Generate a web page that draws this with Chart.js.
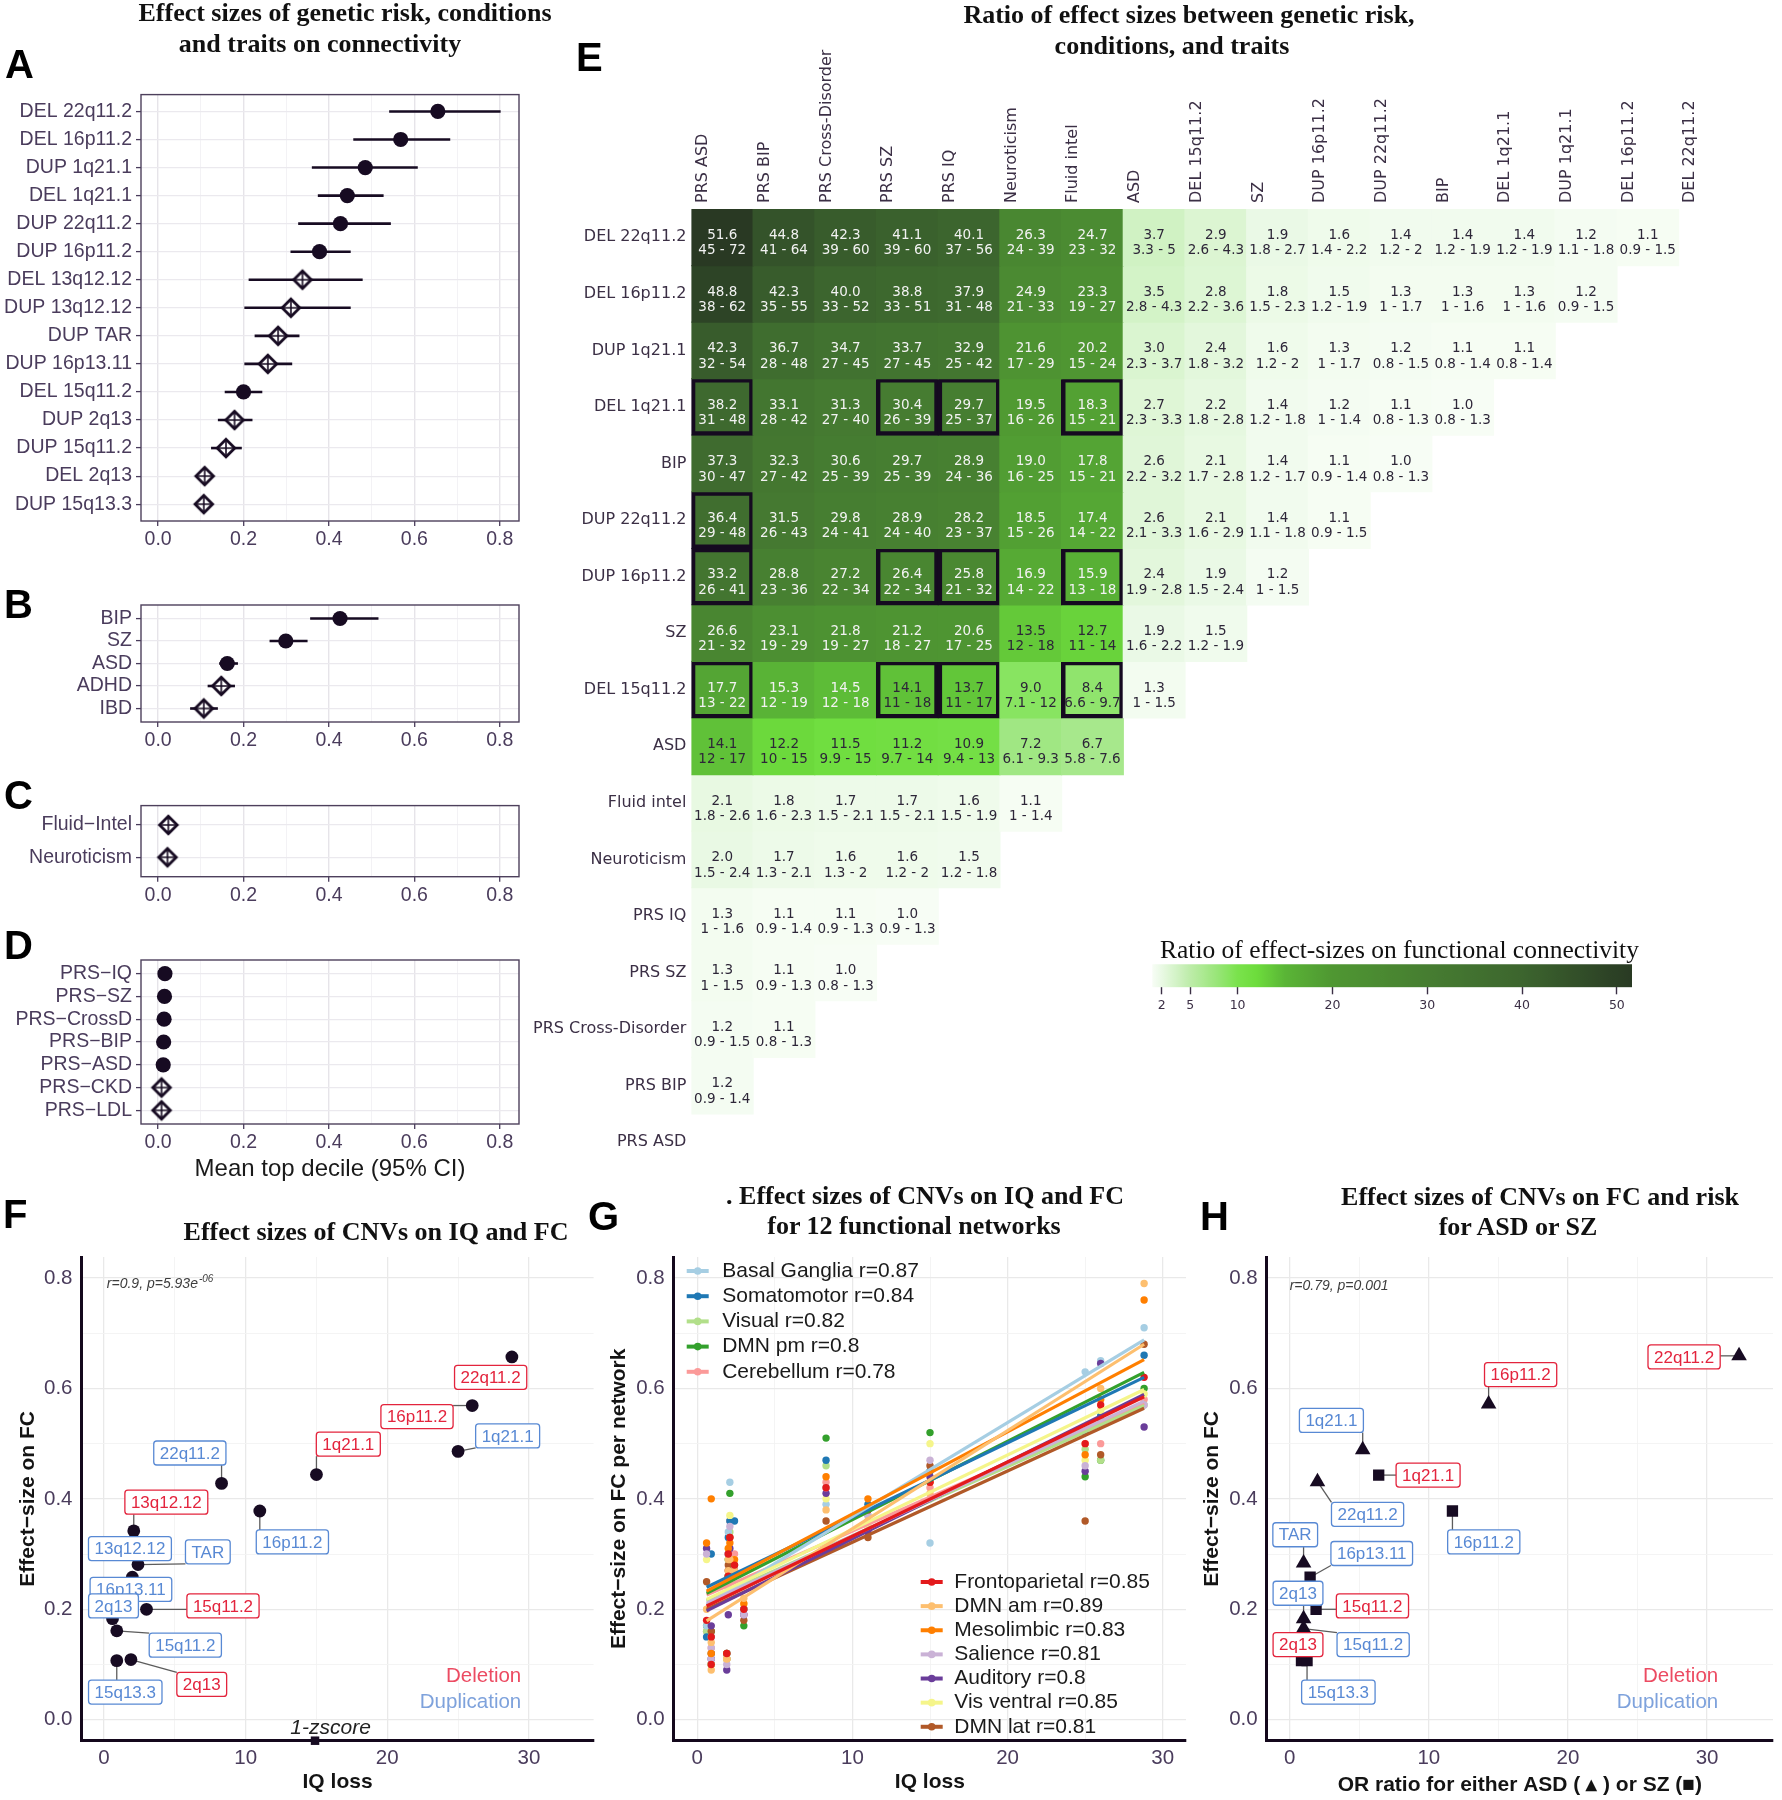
<!DOCTYPE html>
<html>
<head>
<meta charset="utf-8">
<script src="https://cdn.jsdelivr.net/npm/chart.js@4.4.1/dist/chart.umd.min.js"></script>
<style>
  html, body { margin: 0; padding: 0; background: #fff; }
  #fig { position: relative; width: 1782px; height: 1800px; overflow: hidden; background: #fff; }
  canvas { position: absolute; }
  .t { position: absolute; font-family: "Liberation Serif", "Times New Roman", serif; font-weight: bold;
       font-size: 26px; line-height: 30px; color: #111; white-space: nowrap; transform: translateX(-50%); }
  .cb { position: absolute; font-family: "Liberation Serif", "Times New Roman", serif;
        font-size: 25.5px; line-height: 30px; color: #111; white-space: nowrap; }
  .L { position: absolute; font-family: "Liberation Sans", Arial, sans-serif; font-weight: bold;
       font-size: 40px; line-height: 40px; color: #000; }
</style>
</head>
<body>
<div id="fig"></div>
<script>
// ---------- data: panel A (CNVs) ----------
const cnvLabels = ['DEL 22q11.2', 'DEL 16p11.2', 'DUP 1q21.1', 'DEL 1q21.1', 'DUP 22q11.2', 'DUP 16p11.2',
  'DEL 13q12.12', 'DUP 13q12.12', 'DUP TAR', 'DUP 16p13.11', 'DEL 15q11.2', 'DUP 2q13', 'DUP 15q11.2',
  'DEL 2q13', 'DUP 15q13.3'];
const cnvMean = [0.655, 0.568, 0.485, 0.443, 0.427, 0.378, 0.338, 0.311, 0.281, 0.257, 0.200, 0.179, 0.159, 0.109, 0.107];
const cnvLow  = [0.541, 0.457, 0.360, 0.374, 0.328, 0.310, 0.212, 0.202, 0.226, 0.202, 0.156, 0.140, 0.124, 0.098, 0.097];
const cnvHigh = [0.802, 0.684, 0.608, 0.528, 0.545, 0.451, 0.479, 0.451, 0.331, 0.314, 0.244, 0.221, 0.196, 0.120, 0.118];
const cnvShape = ['o', 'o', 'o', 'o', 'o', 'o', 'd', 'd', 'd', 'd', 'o', 'd', 'd', 'd', 'd'];

// ---------- data: panel B (conditions) ----------
const condLabels = ['BIP', 'SZ', 'ASD', 'ADHD', 'IBD'];
const condMean = [0.426, 0.299, 0.162, 0.148, 0.107];
const condLow  = [0.356, 0.261, 0.143, 0.116, 0.075];
const condHigh = [0.516, 0.350, 0.187, 0.180, 0.140];
const condShape = ['o', 'o', 'o', 'd', 'd'];

// ---------- data: panel C (traits) ----------
const traitLabels = ['Fluid\u2212Intel', 'Neuroticism'];
const traitMean = [0.024, 0.022];
const traitLow  = [0.018, 0.016];
const traitHigh = [0.030, 0.028];
const traitShape = ['d', 'd'];

// ---------- data: panel D (PRS) ----------
const prsLabels = ['PRS\u2212IQ', 'PRS\u2212SZ', 'PRS\u2212CrossD', 'PRS\u2212BIP', 'PRS\u2212ASD', 'PRS\u2212CKD', 'PRS\u2212LDL'];
const prsMean = [0.016, 0.015, 0.014, 0.013, 0.012, 0.008, 0.008];
const prsLow  = [0.011, 0.010, 0.009, 0.008, 0.007, 0.004, 0.004];
const prsHigh = [0.021, 0.020, 0.019, 0.018, 0.017, 0.012, 0.012];
const prsShape = ['o', 'o', 'o', 'o', 'o', 'd', 'd'];

// ---------- data: panel E (ratio heatmap) ----------
const heatCols = ['PRS ASD', 'PRS BIP', 'PRS Cross-Disorder', 'PRS SZ', 'PRS IQ', 'Neuroticism', 'Fluid intel',
  'ASD', 'DEL 15q11.2', 'SZ', 'DUP 16p11.2', 'DUP 22q11.2', 'BIP', 'DEL 1q21.1', 'DUP 1q21.1', 'DEL 16p11.2', 'DEL 22q11.2'];
const heatRows = ['DEL 22q11.2', 'DEL 16p11.2', 'DUP 1q21.1', 'DEL 1q21.1', 'BIP', 'DUP 22q11.2', 'DUP 16p11.2',
  'SZ', 'DEL 15q11.2', 'ASD', 'Fluid intel', 'Neuroticism', 'PRS IQ', 'PRS SZ', 'PRS Cross-Disorder', 'PRS BIP', 'PRS ASD'];
const heatValues = [
  [51.6, 44.8, 42.3, 41.1, 40.1, 26.3, 24.7, 3.7, 2.9, 1.9, 1.6, 1.4, 1.4, 1.4, 1.2, 1.1],
  [48.8, 42.3, 40.0, 38.8, 37.9, 24.9, 23.3, 3.5, 2.8, 1.8, 1.5, 1.3, 1.3, 1.3, 1.2],
  [42.3, 36.7, 34.7, 33.7, 32.9, 21.6, 20.2, 3.0, 2.4, 1.6, 1.3, 1.2, 1.1, 1.1],
  [38.2, 33.1, 31.3, 30.4, 29.7, 19.5, 18.3, 2.7, 2.2, 1.4, 1.2, 1.1, 1.0],
  [37.3, 32.3, 30.6, 29.7, 28.9, 19.0, 17.8, 2.6, 2.1, 1.4, 1.1, 1.0],
  [36.4, 31.5, 29.8, 28.9, 28.2, 18.5, 17.4, 2.6, 2.1, 1.4, 1.1],
  [33.2, 28.8, 27.2, 26.4, 25.8, 16.9, 15.9, 2.4, 1.9, 1.2],
  [26.6, 23.1, 21.8, 21.2, 20.6, 13.5, 12.7, 1.9, 1.5],
  [17.7, 15.3, 14.5, 14.1, 13.7, 9.0, 8.4, 1.3],
  [14.1, 12.2, 11.5, 11.2, 10.9, 7.2, 6.7],
  [2.1, 1.8, 1.7, 1.7, 1.6, 1.1],
  [2.0, 1.7, 1.6, 1.6, 1.5],
  [1.3, 1.1, 1.1, 1.0],
  [1.3, 1.1, 1.0],
  [1.2, 1.1],
  [1.2],
  []
];
const heatRange = [
  ['45 - 72', '41 - 64', '39 - 60', '39 - 60', '37 - 56', '24 - 39', '23 - 32', '3.3 - 5', '2.6 - 4.3', '1.8 - 2.7', '1.4 - 2.2', '1.2 - 2', '1.2 - 1.9', '1.2 - 1.9', '1.1 - 1.8', '0.9 - 1.5'],
  ['38 - 62', '35 - 55', '33 - 52', '33 - 51', '31 - 48', '21 - 33', '19 - 27', '2.8 - 4.3', '2.2 - 3.6', '1.5 - 2.3', '1.2 - 1.9', '1 - 1.7', '1 - 1.6', '1 - 1.6', '0.9 - 1.5'],
  ['32 - 54', '28 - 48', '27 - 45', '27 - 45', '25 - 42', '17 - 29', '15 - 24', '2.3 - 3.7', '1.8 - 3.2', '1.2 - 2', '1 - 1.7', '0.8 - 1.5', '0.8 - 1.4', '0.8 - 1.4'],
  ['31 - 48', '28 - 42', '27 - 40', '26 - 39', '25 - 37', '16 - 26', '15 - 21', '2.3 - 3.3', '1.8 - 2.8', '1.2 - 1.8', '1 - 1.4', '0.8 - 1.3', '0.8 - 1.3'],
  ['30 - 47', '27 - 42', '25 - 39', '25 - 39', '24 - 36', '16 - 25', '15 - 21', '2.2 - 3.2', '1.7 - 2.8', '1.2 - 1.7', '0.9 - 1.4', '0.8 - 1.3'],
  ['29 - 48', '26 - 43', '24 - 41', '24 - 40', '23 - 37', '15 - 26', '14 - 22', '2.1 - 3.3', '1.6 - 2.9', '1.1 - 1.8', '0.9 - 1.5'],
  ['26 - 41', '23 - 36', '22 - 34', '22 - 34', '21 - 32', '14 - 22', '13 - 18', '1.9 - 2.8', '1.5 - 2.4', '1 - 1.5'],
  ['21 - 32', '19 - 29', '19 - 27', '18 - 27', '17 - 25', '12 - 18', '11 - 14', '1.6 - 2.2', '1.2 - 1.9'],
  ['13 - 22', '12 - 19', '12 - 18', '11 - 18', '11 - 17', '7.1 - 12', '6.6 - 9.7', '1 - 1.5'],
  ['12 - 17', '10 - 15', '9.9 - 15', '9.7 - 14', '9.4 - 13', '6.1 - 9.3', '5.8 - 7.6'],
  ['1.8 - 2.6', '1.6 - 2.3', '1.5 - 2.1', '1.5 - 2.1', '1.5 - 1.9', '1 - 1.4'],
  ['1.5 - 2.4', '1.3 - 2.1', '1.3 - 2', '1.2 - 2', '1.2 - 1.8'],
  ['1 - 1.6', '0.9 - 1.4', '0.9 - 1.3', '0.9 - 1.3'],
  ['1 - 1.5', '0.9 - 1.3', '0.8 - 1.3'],
  ['0.9 - 1.5', '0.8 - 1.3'],
  ['0.9 - 1.4'],
  []
];
// cells outlined in black: [row, column]
const heatBoxed = [[3, 0], [3, 3], [3, 4], [3, 6], [5, 0], [6, 0], [6, 3], [6, 4], [6, 6], [8, 0], [8, 3], [8, 4], [8, 6]];
const cbarTicks = [2, 5, 10, 20, 30, 40, 50];
const heatMin = 1.0, heatMax = 51.6;

// ---------- data: panel F (IQ loss vs FC) ----------
const fNames = ['22q11.2', '16p11.2', '1q21.1', '1q21.1', '16p11.2', '22q11.2', '13q12.12', '13q12.12', 'TAR',
  '16p13.11', '15q11.2', '2q13', '15q11.2', '15q13.3', '2q13'];
const fType = ['DEL', 'DEL', 'DUP', 'DEL', 'DUP', 'DUP', 'DEL', 'DUP', 'DUP', 'DUP', 'DEL', 'DUP', 'DUP', 'DUP', 'DEL'];
const fIQ = [28.8, 26.0, 25.0, 15.0, 11.0, 8.3, 2.1, 2.0, 2.4, 2.0, 3.0, 0.6, 0.9, 0.9, 1.9];
const fFC = [0.657, 0.569, 0.486, 0.444, 0.378, 0.428, 0.342, 0.311, 0.281, 0.258, 0.200, 0.183, 0.161, 0.107, 0.109];
const zscoreIQ = 14.9;

// ---------- data: panel G (per network) ----------
const gIQ = [0.6, 0.9, 0.9, 1.9, 2.0, 2.0, 2.1, 2.4, 3.0, 8.3, 11.0, 15.0, 25.0, 26.0, 28.8];
const gFrontoparietal = [0.18, 0.15, 0.10, 0.12, 0.26, 0.30, 0.33, 0.28, 0.20, 0.42, 0.38, 0.43, 0.50, 0.57, 0.62];
const gDMNam          = [0.20, 0.14, 0.09, 0.11, 0.29, 0.27, 0.29, 0.27, 0.22, 0.38, 0.36, 0.41, 0.50, 0.60, 0.79];
const gMesolimbic     = [0.32, 0.40, 0.12, 0.12, 0.26, 0.31, 0.32, 0.29, 0.21, 0.44, 0.40, 0.43, 0.48, 0.58, 0.76];
const gSalience       = [0.30, 0.13, 0.11, 0.10, 0.24, 0.30, 0.35, 0.26, 0.19, 0.42, 0.37, 0.47, 0.46, 0.54, 0.57];
const gAuditory       = [0.31, 0.17, 0.11, 0.09, 0.19, 0.30, 0.31, 0.27, 0.19, 0.41, 0.34, 0.44, 0.45, 0.645, 0.53];
const gVisVentral     = [0.29, 0.10, 0.10, 0.11, 0.25, 0.31, 0.37, 0.29, 0.21, 0.40, 0.35, 0.50, 0.47, 0.56, 0.59];
const gDMNlat         = [0.25, 0.16, 0.12, 0.11, 0.27, 0.28, 0.33, 0.28, 0.18, 0.36, 0.33, 0.46, 0.36, 0.48, 0.68];
const gBasalGanglia   = [0.17, 0.15, 0.11, 0.12, 0.25, 0.34, 0.43, 0.27, 0.20, 0.39, 0.37, 0.32, 0.63, 0.65, 0.71];
const gSomatomotor    = [0.15, 0.30, 0.10, 0.12, 0.26, 0.33, 0.36, 0.36, 0.20, 0.47, 0.39, 0.45, 0.52, 0.55, 0.66];
const gVisual         = [0.16, 0.12, 0.10, 0.11, 0.25, 0.29, 0.34, 0.28, 0.20, 0.46, 0.36, 0.40, 0.49, 0.47, 0.57];
const gDMNpm          = [0.17, 0.16, 0.10, 0.12, 0.26, 0.29, 0.41, 0.26, 0.17, 0.51, 0.38, 0.52, 0.44, 0.47, 0.60];
const gCerebellum     = [0.16, 0.16, 0.13, 0.11, 0.27, 0.30, 0.36, 0.30, 0.19, 0.43, 0.35, 0.42, 0.52, 0.50, 0.58];
const netNames = ['Frontoparietal', 'DMN am', 'Mesolimbic', 'Salience', 'Auditory', 'Vis ventral', 'DMN lat',
  'Basal Ganglia', 'Somatomotor', 'Visual', 'DMN pm', 'Cerebellum'];
const netR = ['0.85', '0.89', '0.83', '0.81', '0.8', '0.85', '0.81', '0.87', '0.84', '0.82', '0.8', '0.78'];
const netValues = [gFrontoparietal, gDMNam, gMesolimbic, gSalience, gAuditory, gVisVentral, gDMNlat,
  gBasalGanglia, gSomatomotor, gVisual, gDMNpm, gCerebellum];
// fitted lines: value at the lowest and the highest IQ loss
const gLineX = [0.6, 28.8];
const gLineStart = [0.206, 0.179, 0.233, 0.211, 0.197, 0.218, 0.200, 0.208, 0.240, 0.215, 0.229, 0.226];
const gLineEnd   = [0.585, 0.680, 0.652, 0.577, 0.589, 0.598, 0.564, 0.688, 0.620, 0.569, 0.629, 0.573];

// ---------- data: panel H (OR vs FC) ----------
const hNames = ['22q11.2', '16p11.2', '1q21.1', '1q21.1', '22q11.2', '16p11.2', 'TAR', '16p13.11', '15q11.2',
  '2q13', '15q11.2', '2q13', '15q13.3'];
const hType = ['DEL', 'DEL', 'DUP', 'DEL', 'DUP', 'DUP', 'DUP', 'DUP', 'DEL', 'DUP', 'DUP', 'DEL', 'DUP'];
const hOR = [32.3, 14.3, 5.25, 6.4, 2.0, 11.7, 1.0, 1.47, 1.9, 1.0, 1.0, 0.85, 1.25];
const hFC = [0.659, 0.572, 0.489, 0.443, 0.431, 0.378, 0.284, 0.258, 0.200, 0.183, 0.165, 0.107, 0.107];
const hRisk = ['ASD', 'ASD', 'ASD', 'SZ', 'ASD', 'SZ', 'ASD', 'SZ', 'SZ', 'ASD', 'ASD', 'SZ', 'SZ'];

// ---------- label placement (data coordinates of the label boxes) ----------
const fLabelX = [27.3, 22.1, 28.5, 17.25, 13.3, 6.06, 4.4, 1.83, 7.33, 1.9, 8.4, 0.67, 5.74, 1.5, 6.9];
const fLabelY = [0.620, 0.549, 0.514, 0.499, 0.322, 0.483, 0.394, 0.310, 0.304, 0.236, 0.206, 0.206, 0.135, 0.050, 0.064];
const hLabelX = [28.35, 16.6, 3.0, 9.95, 5.6, 13.95, 0.4, 5.9, 5.95, 0.6, 6.0, 0.6, 3.5];
const hLabelY = [0.657, 0.625, 0.542, 0.443, 0.372, 0.322, 0.335, 0.301, 0.206, 0.229, 0.136, 0.136, 0.050];

// ---------- styles ----------
Chart.defaults.animation = false;
Chart.defaults.font.family = '"Liberation Sans", Arial, sans-serif';
Chart.defaults.color = '#4a3c5c';
Chart.defaults.plugins.legend.display = false;
Chart.defaults.plugins.tooltip.enabled = false;

const INK = '#170b22';
const TICK = '#4a3c5c';
const HEAT_TXT = '#3b2f45';
const DEL_COL = '#e3243d', DUP_COL = '#5889d4';
const DEL_LEG = '#ec4b62', DUP_LEG = '#7ea2dc';
const NET_COLORS = ['#e31a1c', '#fdbf6f', '#ff7f00', '#cab2d6', '#6a3d9a', '#f5f58a', '#b15928',
  '#a6cee3', '#1f78b4', '#b2df8a', '#33a02c', '#fb9a99'];
const LABEL_FONT = '17px "Liberation Sans", Arial, sans-serif';
const heatStops = [[1, '#f7fdf5'], [2, '#e9f9e4'], [5, '#bdeca9'], [8, '#96e575'], [10, '#7ae24c'], [12, '#6ddc3c'],
  [15, '#5ab536'], [20, '#4f9732'], [30, '#467d31'], [40, '#3c652e'], [52, '#283823']];

const fig = document.getElementById('fig');

function place(id, cv) {
  const c = document.createElement('canvas');
  c.id = id;
  c.width = cv.width;
  c.height = cv.height;
  c.style.left = cv.left + 'px';
  c.style.top = cv.top + 'px';
  c.style.width = cv.width + 'px';
  c.style.height = cv.height + 'px';
  fig.appendChild(c);
  return c;
}

function addText(cls, text, x, y) {
  const d = document.createElement('div');
  d.className = cls;
  d.textContent = text;
  d.style.left = x + 'px';
  d.style.top = y + 'px';
  fig.appendChild(d);
}

function hex(c) {
  return [1, 3, 5].map(k => parseInt(c.slice(k, k + 2), 16));
}

function heatColor(v) {
  let k = 0;
  while (k < heatStops.length - 2 && v > heatStops[k + 1][0]) k++;
  const [v0, c0] = heatStops[k], [v1, c1] = heatStops[k + 1];
  const t = Math.max(0, Math.min(1, (v - v0) / (v1 - v0)));
  const a = hex(c0), b = hex(c1);
  return 'rgb(' + a.map((x, i) => Math.round(x + (b[i] - x) * t)).join(',') + ')';
}

function textOn(rgb) {
  const lin = rgb.match(/\d+/g).map(Number).map(c => {
    c /= 255;
    return c <= 0.03928 ? c / 12.92 : Math.pow((c + 0.055) / 1.055, 2.4);
  });
  const lum = 0.2126 * lin[0] + 0.7152 * lin[1] + 0.0722 * lin[2];
  return lum > 0.408 ? '#2d2638' : '#f2f2f2';
}

// open diamond with a plus inside (non significant estimates)
const DIAMOND = (() => {
  const r = 8.8, m = 12;
  const c = document.createElement('canvas');
  c.width = c.height = 24;
  const g = c.getContext('2d');
  g.beginPath();
  g.moveTo(m, m - r); g.lineTo(m + r, m); g.lineTo(m, m + r); g.lineTo(m - r, m); g.closePath();
  g.fillStyle = '#fff'; g.fill();
  g.lineWidth = 2.8; g.strokeStyle = INK; g.stroke();
  g.beginPath();
  g.moveTo(m, m - r); g.lineTo(m, m + r); g.moveTo(m - r, m); g.lineTo(m + r, m);
  g.lineWidth = 1.6; g.stroke();
  return c;
})();

// ---------- plugins ----------
const ciBars = {
  id: 'ciBars',
  beforeDatasetsDraw(chart) {
    const {ctx, scales: {x, y}} = chart;
    const ds = chart.data.datasets[0];
    ctx.save();
    ctx.strokeStyle = INK;
    ctx.lineWidth = 2.6;
    ds.data.forEach((p, i) => {
      const py = y.getPixelForValue(p.y);
      ctx.beginPath();
      ctx.moveTo(x.getPixelForValue(ds.low[i]), py);
      ctx.lineTo(x.getPixelForValue(ds.high[i]), py);
      ctx.stroke();
    });
    ctx.restore();
  }
};

const frame = {
  id: 'frame',
  afterDraw(chart) {
    const {ctx, chartArea: a} = chart;
    ctx.save();
    ctx.strokeStyle = '#4d405c';
    ctx.lineWidth = 1.4;
    ctx.strokeRect(a.left, a.top, a.right - a.left, a.bottom - a.top);
    ctx.restore();
  }
};

const cellText = {
  id: 'cellText',
  afterDatasetsDraw(chart) {
    const ctx = chart.ctx;
    ctx.save();
    ctx.textAlign = 'center';
    ctx.textBaseline = 'middle';
    ctx.font = '13.5px "DejaVu Sans", sans-serif';
    heatValues.forEach((row, i) => {
      chart.getDatasetMeta(i).data.forEach((el, j) => {
        if (j >= row.length) return;
        const {x, y} = el.getCenterPoint();
        ctx.fillStyle = textOn(heatColor(row[j]));
        ctx.fillText(row[j].toFixed(1), x, y - 1.7, 61);
        ctx.fillText(heatRange[i][j], x, y + 13.7, 61);
      });
    });
    ctx.restore();
  }
};

function labelBoxes(chart, o) {
  const {ctx, scales: {x, y}} = chart;
  ctx.save();
  ctx.font = LABEL_FONT;
  const out = o.names.map((t, i) => {
    const w = ctx.measureText(t).width + 12, h = 24;
    return {x: x.getPixelForValue(o.lx[i]) - w / 2, y: y.getPixelForValue(o.ly[i]) - h / 2, w, h};
  });
  ctx.restore();
  return out;
}

const repel = {
  id: 'repel',
  beforeDatasetsDraw(chart, args, o) {
    const {ctx} = chart;
    const pts = chart.getDatasetMeta(0).data;
    ctx.save();
    ctx.strokeStyle = '#5c5c5c';
    ctx.lineWidth = 1.3;
    labelBoxes(chart, o).forEach((b, i) => {
      const p = pts[i];
      const cx = Math.max(b.x, Math.min(p.x, b.x + b.w));
      const cy = Math.max(b.y, Math.min(p.y, b.y + b.h));
      if (Math.hypot(cx - p.x, cy - p.y) < 12) return;
      ctx.beginPath();
      ctx.moveTo(p.x, p.y);
      ctx.lineTo(cx, cy);
      ctx.stroke();
    });
    ctx.restore();
  },
  afterDatasetsDraw(chart, args, o) {
    const {ctx} = chart;
    ctx.save();
    ctx.font = LABEL_FONT;
    ctx.textAlign = 'center';
    ctx.textBaseline = 'middle';
    ctx.lineWidth = 1.3;
    labelBoxes(chart, o).forEach((b, i) => {
      const col = o.types[i] === 'DEL' ? DEL_COL : DUP_COL;
      ctx.beginPath();
      ctx.roundRect(b.x, b.y, b.w, b.h, 3);
      ctx.fillStyle = '#fff';
      ctx.fill();
      ctx.strokeStyle = col;
      ctx.stroke();
      ctx.fillStyle = col;
      ctx.fillText(o.names[i], b.x + b.w / 2, b.y + b.h / 2 + 1);
    });
    ctx.restore();
  }
};

const notes = {
  id: 'notes',
  afterDraw(chart, args, o) {
    const {ctx, scales: {x, y}} = chart;
    o.items.forEach(t => {
      ctx.save();
      ctx.font = t.font;
      ctx.fillStyle = t.color;
      ctx.textAlign = t.align || 'left';
      ctx.textBaseline = 'middle';
      const px = x.getPixelForValue(t.x), py = y.getPixelForValue(t.y);
      ctx.fillText(t.text, px, py);
      if (t.sup) {
        const w = ctx.measureText(t.text).width;
        ctx.font = t.supFont;
        ctx.textAlign = 'left';
        ctx.fillText(t.sup, px + w + 1, py - 5);
      }
      ctx.restore();
    });
  }
};

const netLegend = {
  id: 'netLegend',
  afterDatasetsDraw(chart, args, o) {
    const {ctx, chartArea: a} = chart;
    ctx.save();
    ctx.font = '21px "Liberation Sans", Arial, sans-serif';
    ctx.textBaseline = 'middle';
    o.blocks.forEach(b => b.items.forEach((k, n) => {
      const y = a.top + b.dy + n * b.step, x0 = a.left + b.dx;
      ctx.strokeStyle = NET_COLORS[k];
      ctx.lineWidth = 4;
      ctx.beginPath(); ctx.moveTo(x0, y); ctx.lineTo(x0 + 22, y); ctx.stroke();
      ctx.fillStyle = NET_COLORS[k];
      ctx.beginPath(); ctx.arc(x0 + 11, y, 3.8, 0, Math.PI * 2); ctx.fill();
      ctx.fillStyle = '#1a1a1a';
      ctx.fillText(netNames[k] + ' r=' + netR[k], x0 + b.textDx, y);
    }));
    ctx.restore();
  }
};

// ---------- forest plots A-D ----------
function forest(id, cv, area, labels, mean, low, high, shape, xTitle) {
  const n = labels.length;
  return new Chart(place(id, cv), {
    type: 'scatter',
    data: {
      datasets: [{
        data: mean.map((m, i) => ({x: m, y: i + 1})),
        low: low,
        high: high,
        pointStyle: c => shape[c.dataIndex] === 'd' ? DIAMOND : 'circle',
        pointRadius: 7.6,
        pointHoverRadius: 7.6,
        backgroundColor: INK,
        borderWidth: 0
      }]
    },
    options: {
      responsive: false,
      layout: {padding: {left: 0, top: area.t - cv.top, right: cv.left + cv.width - area.r, bottom: 0}},
      scales: {
        x: {
          type: 'linear', min: -0.04, max: 0.845,
          afterFit: s => { s.height = cv.top + cv.height - area.b; },
          afterBuildTicks: s => { s.ticks = [0, 1, 2, 3, 4, 5, 6, 7, 8].map(k => ({value: k / 10})); },
          ticks: {autoSkip: false, maxRotation: 0, padding: 2, color: TICK, font: {size: 19.5},
            callback: (v, i) => i % 2 ? '' : v.toFixed(1)},
          grid: {color: c => c.index % 2 ? '#f2f0f4' : '#e6e4e9', lineWidth: c => c.index % 2 ? 0.9 : 1.4,
            tickLength: 5, tickColor: c => c.index % 2 ? 'rgba(0,0,0,0)' : TICK, tickWidth: 1.3},
          border: {display: false},
          title: xTitle ? {display: true, text: xTitle, color: '#1a1a1a', font: {size: 24}, padding: {top: 0, bottom: 6.5}}
                        : {display: false}
        },
        y: {
          type: 'linear', min: 0.4, max: n + 0.6, reverse: true,
          afterFit: s => { s.width = area.l - cv.left; },
          afterBuildTicks: s => { s.ticks = labels.map((_, i) => ({value: i + 1})); },
          ticks: {autoSkip: false, padding: 4, color: TICK, font: {size: 19.5}, callback: v => labels[v - 1]},
          grid: {color: '#ebe9ee', lineWidth: 1.2, tickLength: 5, tickColor: TICK, tickWidth: 1.3},
          border: {display: false}
        }
      }
    },
    plugins: [ciBars, frame]
  });
}

forest('panelA', {left: 0, top: 74, width: 530, height: 486}, {l: 141, t: 94.6, r: 519, b: 521},
  cnvLabels, cnvMean, cnvLow, cnvHigh, cnvShape);
forest('panelB', {left: 0, top: 585, width: 530, height: 175}, {l: 141, t: 605, r: 519, b: 722},
  condLabels, condMean, condLow, condHigh, condShape);
forest('panelC', {left: 0, top: 784, width: 530, height: 132}, {l: 141, t: 805.6, r: 519, b: 876.7},
  traitLabels, traitMean, traitLow, traitHigh, traitShape);
forest('panelD', {left: 0, top: 940, width: 530, height: 250}, {l: 141, t: 960, r: 519, b: 1124},
  prsLabels, prsMean, prsLow, prsHigh, prsShape, 'Mean top decile (95% CI)');

// ---------- heatmap E ----------
const heatCv = {left: 460, top: 20, width: 1300, height: 1165};
const heatArea = {l: 691.4, t: 209, r: 691.4 + 17 * 61.7, b: 209 + 17 * 56.6};
const isBoxed = (i, j) => heatBoxed.some(([r, c]) => r === i && c === j);

new Chart(place('panelE', heatCv), {
  type: 'bar',
  data: {
    labels: heatCols,
    datasets: heatRows.map((row, i) => ({
      label: row,
      data: heatCols.map((_, j) => j < heatValues[i].length ? [i, i + 1] : null),
      backgroundColor: heatCols.map((_, j) => j < heatValues[i].length ? heatColor(heatValues[i][j]) : 'rgba(0,0,0,0)'),
      borderColor: '#150a20',
      borderWidth: heatCols.map((_, j) => isBoxed(i, j) ? 4.5 : 0),
      borderSkipped: false,
      grouped: false,
      barPercentage: 1,
      categoryPercentage: 1,
      inflateAmount: 0.6
    }))
  },
  options: {
    responsive: false,
    layout: {padding: {left: 0, top: 0, right: heatCv.left + heatCv.width - heatArea.r,
      bottom: heatCv.top + heatCv.height - heatArea.b}},
    scales: {
      x: {
        position: 'top',
        afterFit: s => { s.height = heatArea.t - heatCv.top; },
        grid: {display: false, drawTicks: false},
        border: {display: false},
        ticks: {autoSkip: false, minRotation: 90, maxRotation: 90, padding: 6, color: HEAT_TXT,
          font: {family: '"DejaVu Sans", sans-serif', size: 16}}
      },
      y: {
        type: 'linear', min: 0, max: 17, reverse: true,
        afterFit: s => { s.width = heatArea.l - heatCv.left; },
        afterBuildTicks: s => { s.ticks = heatRows.map((_, i) => ({value: i + 0.5})); },
        grid: {display: false, drawTicks: false},
        border: {display: false},
        ticks: {autoSkip: false, padding: 5, color: HEAT_TXT, font: {family: '"DejaVu Sans", sans-serif', size: 16},
          callback: v => heatRows[Math.floor(v)]}
      }
    }
  },
  plugins: [cellText]
});

// colour bar of panel E
const barCv = {left: 1100, top: 955, width: 600, height: 70};
const barArea = {l: 1152.3, t: 964.3, r: 1632, b: 987.3};
new Chart(place('colorbar', barCv), {
  type: 'bar',
  data: {
    labels: [''],
    datasets: [{
      data: [[heatMin, heatMax]],
      backgroundColor: c => {
        const chart = c.chart, a = chart.chartArea;
        if (!a) return '#6ddc3c';
        const xs = chart.scales.x;
        const g = chart.ctx.createLinearGradient(a.left, 0, a.right, 0);
        for (let v = xs.min; v <= xs.max + 1e-9; v += 0.5) {
          g.addColorStop(Math.max(0, Math.min(1, (xs.getPixelForValue(v) - a.left) / (a.right - a.left))), heatColor(v));
        }
        return g;
      },
      borderWidth: 0,
      barPercentage: 1,
      categoryPercentage: 1
    }]
  },
  options: {
    indexAxis: 'y',
    responsive: false,
    layout: {padding: {left: barArea.l - barCv.left, top: barArea.t - barCv.top, right: barCv.left + barCv.width - barArea.r, bottom: 0}},
    scales: {
      x: {
        type: 'linear', min: heatMin, max: heatMax,
        afterFit: s => { s.height = barCv.top + barCv.height - barArea.b; },
        afterBuildTicks: s => { s.ticks = cbarTicks.map(v => ({value: v})); },
        grid: {drawOnChartArea: false, drawTicks: true, tickLength: 7, tickColor: HEAT_TXT, tickWidth: 1.4},
        border: {display: false},
        ticks: {autoSkip: false, maxRotation: 0, padding: 4, color: HEAT_TXT, font: {family: '"DejaVu Sans", sans-serif', size: 12.5}}
      },
      y: {display: false}
    }
  }
});

// ---------- scatter panels F, G, H ----------
function scatterScales(cv, area, xr, xTitle, yTitle, yTitlePad, xTitlePad) {
  return {
    x: {
      type: 'linear', min: xr[0], max: xr[1],
      afterFit: s => { s.height = cv.top + cv.height - area.b; },
      afterBuildTicks: s => { s.ticks = [0, 5, 10, 15, 20, 25, 30].map(v => ({value: v})); },
      grid: {color: c => c.index % 2 ? '#f3f3f3' : '#e9e9e9', lineWidth: c => c.index % 2 ? 0.9 : 1.3, drawTicks: false},
      border: {display: true, color: '#14081c', width: 3},
      ticks: {autoSkip: false, maxRotation: 0, padding: 5, color: TICK, font: {size: 20.5},
        callback: (v, i) => i % 2 ? '' : String(v)},
      title: {display: true, text: xTitle, color: '#141414', font: {size: 21, weight: 'bold'}, padding: {top: 0, bottom: xTitlePad}}
    },
    y: {
      type: 'linear', min: -0.038, max: 0.838,
      afterFit: s => { s.width = area.l - cv.left; },
      afterBuildTicks: s => { s.ticks = [0, 1, 2, 3, 4, 5, 6, 7, 8].map(k => ({value: k / 10})); },
      grid: {color: c => c.index % 2 ? '#f3f3f3' : '#e9e9e9', lineWidth: c => c.index % 2 ? 0.9 : 1.3, drawTicks: false},
      border: {display: true, color: '#14081c', width: 3},
      ticks: {autoSkip: false, padding: 9, color: TICK, font: {size: 20.5},
        callback: (v, i) => i % 2 ? '' : v.toFixed(1)},
      title: {display: true, text: yTitle, color: '#141414', font: {size: 21, weight: 'bold'}, padding: {top: yTitlePad, bottom: 0}}
    }
  };
}
function padFor(cv, area) {
  return {padding: {left: 0, top: area.t - cv.top, right: cv.left + cv.width - area.r, bottom: 0}};
}

const fCv = {left: 0, top: 1235, width: 600, height: 565};
const fArea = {l: 81.5, t: 1257, r: 595, b: 1740.7};
new Chart(place('panelF', fCv), {
  type: 'scatter',
  data: {
    datasets: [
      {data: fIQ.map((x, i) => ({x, y: fFC[i]})), pointRadius: 6.4, backgroundColor: INK, borderWidth: 0},
      {data: [{x: zscoreIQ, y: -0.038}], pointStyle: 'rect', pointRadius: 6, backgroundColor: INK, borderWidth: 0, clip: false}
    ]
  },
  options: {
    responsive: false,
    layout: padFor(fCv, fArea),
    scales: scatterScales(fCv, fArea, [-1.59, 34.57], 'IQ loss', 'Effect\u2212size on FC', 16, 5.6),
    plugins: {
      repel: {names: fNames, types: fType, lx: fLabelX, ly: fLabelY},
      notes: {items: [
        {text: 'r=0.9, p=5.93e', sup: '-06', x: 0.2, y: 0.788, font: 'italic 14px "Liberation Sans", Arial', supFont: 'italic 10px "Liberation Sans", Arial', color: '#3d3d3d'},
        {text: 'Deletion', x: 29.46, y: 0.079, align: 'right', font: '20.5px "Liberation Sans", Arial', color: DEL_LEG},
        {text: 'Duplication', x: 29.46, y: 0.032, align: 'right', font: '20.5px "Liberation Sans", Arial', color: DUP_LEG},
        {text: '1-zscore', x: 16.0, y: -0.016, align: 'center', font: 'italic 21px "Liberation Sans", Arial', color: '#222'}
      ]}
    }
  },
  plugins: [repel, notes]
});

const gCv = {left: 600, top: 1235, width: 590, height: 565};
const gArea = {l: 673.7, t: 1257, r: 1187, b: 1740.7};
new Chart(place('panelG', gCv), {
  type: 'scatter',
  data: {
    datasets: [
      ...netValues.map((vals, k) => ({
        label: netNames[k],
        data: gLineX.map((x, e) => ({x, y: e ? gLineEnd[k] : gLineStart[k]})),
        showLine: true, borderColor: NET_COLORS[k], borderWidth: 3.2, pointRadius: 0, order: 0
      })),
      ...netValues.map((vals, k) => ({
        label: netNames[k],
        data: gIQ.map((x, i) => ({x, y: vals[i]})),
        pointRadius: 3.7, backgroundColor: NET_COLORS[k], borderWidth: 0, order: 1
      }))
    ]
  },
  options: {
    responsive: false,
    layout: padFor(gCv, gArea),
    scales: scatterScales(gCv, gArea, [-1.52, 31.5], 'IQ loss', 'Effect\u2212size on FC per network', 7, 5.6),
    plugins: {
      netLegend: {blocks: [
        {items: [7, 8, 9, 10, 11], dx: 13, dy: 14, step: 25.2, textDx: 35.5},
        {items: [0, 1, 2, 3, 4, 5, 6], dx: 247, dy: 325, step: 24.13, textDx: 33.6}
      ]}
    }
  },
  plugins: [netLegend]
});

const hCv = {left: 1192, top: 1235, width: 590, height: 565};
const hArea = {l: 1266.7, t: 1257, r: 1782, b: 1740.7};
new Chart(place('panelH', hCv), {
  type: 'scatter',
  data: {
    datasets: [{
      data: hOR.map((x, i) => ({x, y: hFC[i]})),
      pointStyle: c => hRisk[c.dataIndex] === 'ASD' ? 'triangle' : 'rect',
      pointRadius: c => hRisk[c.dataIndex] === 'ASD' ? 9 : 8,
      backgroundColor: INK, borderWidth: 0
    }]
  },
  options: {
    responsive: false,
    layout: padFor(hCv, hArea),
    scales: scatterScales(hCv, hArea, [-1.65, 34.74], 'OR ratio for either ASD ( \u25B4 ) or SZ (\u25A0)', 'Effect\u2212size on FC', 8, 2.4),
    plugins: {
      repel: {names: hNames, types: hType, lx: hLabelX, ly: hLabelY},
      notes: {items: [
        {text: 'r=0.79, p=0.001', x: 0.0, y: 0.786, font: 'italic 14px "Liberation Sans", Arial', color: '#3d3d3d'},
        {text: 'Deletion', x: 30.8, y: 0.079, align: 'right', font: '20.5px "Liberation Sans", Arial', color: DEL_LEG},
        {text: 'Duplication', x: 30.8, y: 0.032, align: 'right', font: '20.5px "Liberation Sans", Arial', color: DUP_LEG}
      ]}
    }
  },
  plugins: [repel, notes]
});

// ---------- titles and panel letters ----------
[
  ['Effect sizes of genetic risk, conditions', 345, 13],
  ['and traits on connectivity', 320, 44],
  ['Ratio of effect sizes between genetic risk,', 1189, 15],
  ['conditions, and traits', 1172, 46],
  ['Effect sizes of CNVs on IQ and FC', 376, 1232],
  ['. Effect sizes of CNVs on IQ and FC', 925, 1196],
  ['for 12 functional networks', 914, 1226],
  ['Effect sizes of CNVs on FC and risk', 1540, 1197],
  ['for ASD or SZ', 1518, 1227]
].forEach(([t, cx, cy]) => addText('t', t, cx, cy - 15));
addText('cb', 'Ratio of effect-sizes on functional connectivity', 1160, 950 - 15);
[
  ['A', 5, 49], ['B', 4, 589], ['C', 4, 780], ['D', 4, 930],
  ['E', 576, 42], ['F', 3, 1199], ['G', 588, 1201], ['H', 1200, 1201]
].forEach(([t, x, capTop]) => addText('L', t, x, capTop - 5));
</script>
</body>
</html>
